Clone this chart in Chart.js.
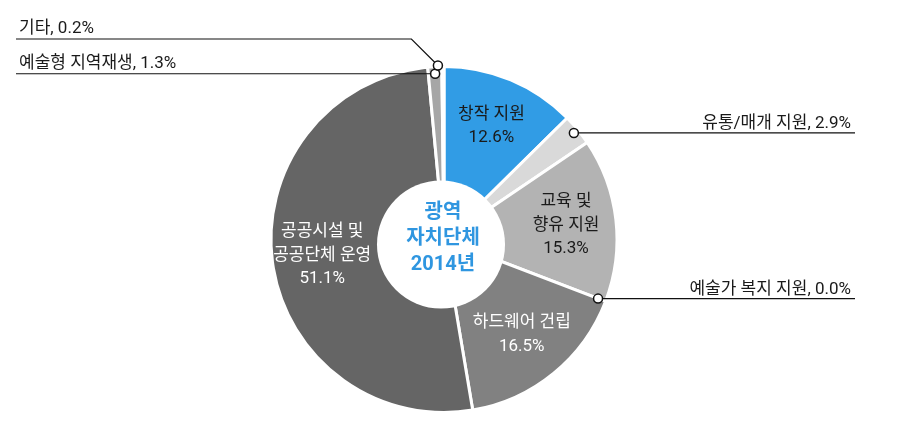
<!DOCTYPE html>
<html lang="ko">
<head>
<meta charset="UTF-8">
<title>광역 자치단체 2014년</title>
<script src="https://cdn.jsdelivr.net/npm/chart.js"></script>
<style>
    body { margin: 0; background: #fff; }
    .wrap { width: 899px; height: 431px; position: relative; }
</style>
</head>
<body>
<div class="wrap"><canvas id="chart-share"></canvas></div>
<script>
const categories = ['창작 지원', '유통/매개 지원', '교육 및 향유 지원', '예술가 복지 지원', '하드웨어 건립', '공공시설 및 공공단체 운영', '예술형 지역재생', '기타'];
const shares = [12.6, 2.9, 15.3, 0.0, 16.5, 51.1, 1.3, 0.2];
const sliceColors = ['#319ce5', '#d9d9d9', '#b3b3b3', '#999999', '#818181', '#656565', '#a6a6a6', '#cfcfcf'];
// text drawn inside the slice (the % goes under it); null -> callout outside
const insideLines = [['창작 지원'], null, ['교육 및', '향유 지원'], null, ['하드웨어 건립'], ['공공시설 및', '공공단체 운영'], null, null];
const insideColors = ['#1a1a1a', null, '#1a1a1a', null, '#ffffff', '#ffffff', null, null];
const centerLines = ['광역', '자치단체', '2014년'];
// outside callouts: slice index, side, marker radius tweak
const callouts = [
    { i: 1, side: 'right', dr: -5 },
    { i: 3, side: 'right', dr: -8 },
    { i: 6, side: 'left', dr: -7 },
    { i: 7, side: 'left', dr: 1, dx: -5, elbowY: 39 }
];

const FONT = "Roboto, 'Noto Sans CJK KR', sans-serif";

const labelPlugin = {
    id: 'sliceLabels',
    afterDatasetsDraw(chart) {
        const ctx = chart.ctx;
        const arcs = chart.getDatasetMeta(0).data;
        const cx = arcs[0].x, cy = arcs[0].y, R = arcs[0].outerRadius;
        ctx.save();
        // center hole
        ctx.fillStyle = '#fff';
        ctx.beginPath();
        ctx.arc(cx - 3, cy + 5, R * 0.37, 0, Math.PI * 2);
        ctx.fill();

        // labels inside slices
        ctx.textAlign = 'center';
        ctx.textBaseline = 'middle';
        ctx.font = '17px ' + FONT;
        arcs.forEach((arc, i) => {
            if (!insideLines[i]) return;
            const mid = (arc.startAngle + arc.endAngle) / 2;
            const r = R * 0.71;
            const x = cx + Math.cos(mid) * r, y = cy + Math.sin(mid) * r;
            const lines = insideLines[i].concat([shares[i].toFixed(1) + '%']);
            const lh = 23.5;
            ctx.fillStyle = insideColors[i];
            lines.forEach((t, k) => ctx.fillText(t, x, y + (k - (lines.length - 1) / 2) * lh));
        });

        // center title
        ctx.font = 'bold 20px ' + FONT;
        ctx.fillStyle = '#2f96e0';
        centerLines.forEach((t, k) => ctx.fillText(t, cx - 1, cy - 1 + (k - 1) * 26));

        // callouts
        ctx.font = '17px ' + FONT;
        ctx.textBaseline = 'alphabetic';
        callouts.forEach(c => {
            const arc = arcs[c.i];
            const mid = (arc.startAngle + arc.endAngle) / 2;
            const r = R + c.dr;
            const mx = cx + Math.cos(mid) * r + (c.dx || 0), my = cy + Math.sin(mid) * r;
            const text = categories[c.i] + ', ' + shares[c.i].toFixed(1) + '%';
            ctx.strokeStyle = '#111';
            ctx.lineWidth = 1.2;
            ctx.beginPath();
            ctx.moveTo(mx, my);
            let lineY = my;
            if (c.elbowY !== undefined) {
                lineY = c.elbowY;
                ctx.lineTo(mx - (my - lineY), lineY);
            }
            ctx.lineTo(c.side === 'right' ? 855 : 16, lineY);
            ctx.stroke();
            ctx.fillStyle = '#1a1a1a';
            if (c.side === 'right') {
                ctx.textAlign = 'right';
                ctx.fillText(text, 851, lineY - 5);
            } else {
                ctx.textAlign = 'left';
                ctx.fillText(text, 19, lineY - 6);
            }
            ctx.fillStyle = '#fff';
            ctx.lineWidth = 1.5;
            ctx.beginPath();
            ctx.arc(mx, my, 4.5, 0, Math.PI * 2);
            ctx.fill();
            ctx.stroke();
        });
        ctx.restore();
    }
};

new Chart(document.getElementById('chart-share'), {
    type: 'pie',
    data: {
        labels: categories,
        datasets: [{
            data: shares,
            backgroundColor: sliceColors,
            borderColor: '#ffffff',
            borderWidth: 3
        }]
    },
    options: {
        responsive: true,
        maintainAspectRatio: false,
        animation: false,
        events: [],
        layout: { padding: { top: 65, bottom: 17, left: 0, right: 11 } },
        plugins: { legend: { display: false }, tooltip: { enabled: false } }
    },
    plugins: [labelPlugin]
});
</script>
</body>
</html>
